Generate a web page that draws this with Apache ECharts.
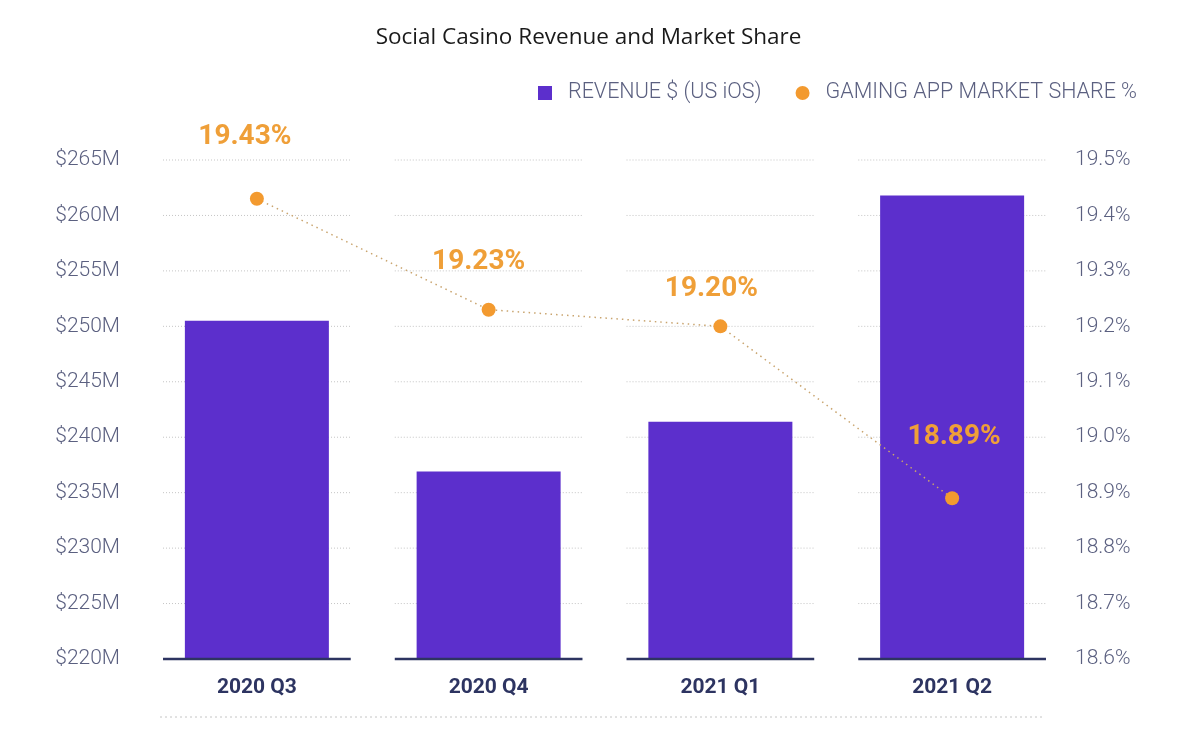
<!DOCTYPE html>
<html>
<head>
<meta charset="utf-8">
<script src="https://cdn.jsdelivr.net/npm/echarts@6/dist/echarts.min.js"></script>
<style>
html,body{margin:0;padding:0;background:#fff;}
#chart{width:1177px;height:730px;}
</style>
</head>
<body>
<div id="chart"></div>
<script>
// ---- data ----
const categories = ['2020 Q3', '2020 Q4', '2021 Q1', '2021 Q2'];
const revenue = [250.5, 236.9, 241.4, 261.8];          // $M (US iOS)
const marketShare = [19.43, 19.23, 19.20, 18.89];      // %
const leftTicks = [220, 225, 230, 235, 240, 245, 250, 255, 260, 265];
const rightTicks = [18.6, 18.7, 18.8, 18.9, 19.0, 19.1, 19.2, 19.3, 19.4, 19.5];

// ---- layout constants (not data) ----
const labelOffsets = [[-12, -62], [-10, -48], [-9, -37], [2, -61]];

const gridItems = [];
const axisItems = [];
categories.forEach((c, i) => {
  leftTicks.forEach(t => {
    if (t === leftTicks[0]) axisItems.push([i, t]);
    else gridItems.push([i, t]);
  });
});

function segRenderer(stroke, width, dash) {
  return function (params, api) {
    const p = api.coord([api.value(0), api.value(1)]);
    const half = api.size([1, 0])[0] * 0.405;
    return {
      type: 'line',
      shape: { x1: p[0] - half, y1: p[1], x2: p[0] + half, y2: p[1] },
      style: { stroke: stroke, lineWidth: width, lineDash: dash }
    };
  };
}

const chart = echarts.init(document.getElementById('chart'), null, { renderer: 'canvas' });
const axisFont = { color: '#5b6080', fontSize: 21, fontFamily: 'Roboto', fontWeight: 300 };

chart.setOption({
  backgroundColor: '#ffffff',
  animation: false,
  title: {
    text: 'Social Casino Revenue and Market Share',
    left: 'center',
    top: 21,
    textStyle: { color: '#1a1a1a', fontSize: 22.5, fontWeight: 'normal', fontFamily: 'Open Sans' }
  },
  legend: {
    right: 35,
    top: 77,
    itemWidth: 14,
    itemHeight: 14,
    itemGap: 34,
    textStyle: { color: '#5b6080', fontSize: 21.5, fontFamily: 'Roboto', fontWeight: 300, padding: [0, 0, 0, 11] },
    data: [
      { name: 'REVENUE $ (US iOS)', icon: 'rect' },
      { name: 'GAMING APP MARKET SHARE %', icon: 'circle' }
    ]
  },
  grid: { left: 141, right: 109, top: 160, bottom: 71, containLabel: false },
  xAxis: {
    type: 'category',
    data: categories,
    axisLine: { show: false },
    axisTick: { show: false },
    splitLine: { show: false },
    axisLabel: { color: '#2d3461', fontSize: 21, fontWeight: 'bold', fontFamily: 'Roboto', margin: 18 }
  },
  yAxis: [
    {
      type: 'value',
      min: leftTicks[0],
      max: leftTicks[leftTicks.length - 1],
      interval: 5,
      axisLine: { show: false },
      axisTick: { show: false },
      splitLine: { show: false },
      axisLabel: Object.assign({ margin: 21, formatter: v => '$' + v + 'M' }, axisFont)
    },
    {
      type: 'value',
      position: 'right',
      min: rightTicks[0],
      max: rightTicks[rightTicks.length - 1],
      interval: 0.1,
      axisLine: { show: false },
      axisTick: { show: false },
      splitLine: { show: false },
      axisLabel: Object.assign({ margin: 7, formatter: v => v.toFixed(1) + '%' }, axisFont)
    }
  ],
  graphic: [
    {
      type: 'line',
      shape: { x1: 160, y1: 717, x2: 1043, y2: 717 },
      style: { stroke: '#c4c4c4', lineWidth: 1, lineDash: [2, 3] }
    }
  ],
  series: [
    {
      type: 'custom',
      name: 'grid',
      z: 1,
      silent: true,
      renderItem: segRenderer('#c4c4c4', 1, [1, 2]),
      data: gridItems
    },
    {
      type: 'bar',
      name: 'REVENUE $ (US iOS)',
      data: revenue,
      barWidth: 144,
      itemStyle: { color: '#5c2fcc' },
      z: 2
    },
    {
      type: 'custom',
      name: 'axis',
      z: 3,
      silent: true,
      renderItem: segRenderer('#2d3461', 2.5, null),
      data: axisItems
    },
    {
      type: 'line',
      name: 'GAMING APP MARKET SHARE %',
      yAxisIndex: 1,
      z: 4,
      symbol: 'circle',
      symbolSize: 14,
      itemStyle: { color: '#f39a2f' },
      lineStyle: { color: '#c9a46e', width: 1.5, type: [1.5, 4] },
      label: {
        show: true,
        position: 'inside',
        color: '#ef9f38',
        fontSize: 28,
        fontWeight: 'bold',
        fontFamily: 'Roboto',
        formatter: p => p.value.toFixed(2) + '%'
      },
      data: marketShare.map((v, i) => ({ value: v, label: { offset: labelOffsets[i] } }))
    }
  ]
});
</script>
</body>
</html>
